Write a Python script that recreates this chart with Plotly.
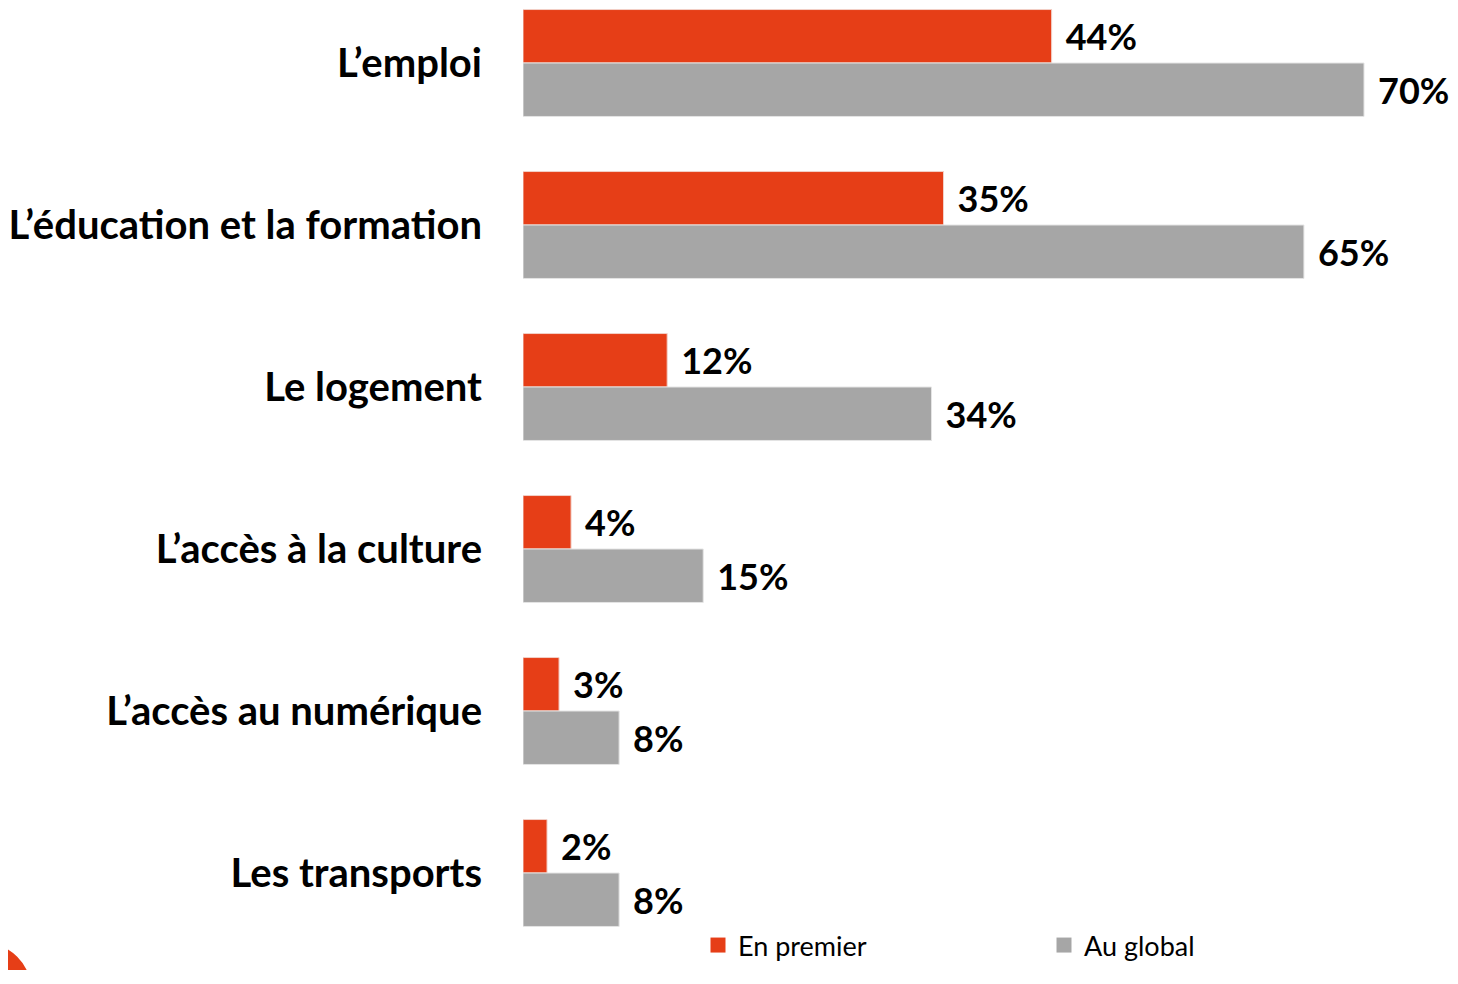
import plotly.graph_objects as go

categories = ["L’emploi", "L’éducation et la formation", "Le logement",
              "L’accès à la culture", "L’accès au numérique", "Les transports"]
en_premier = [44, 35, 12, 4, 3, 2]
au_global = [70, 65, 34, 15, 8, 8]

RED = "#E63E17"
GREY = "#A6A6A6"
FONT = "Lato"

# the html page has an 8px body margin: keep the figure inside the window
W, H = 1442, 962
L, PH = 515, 946
B = H - PH
PW = W - L

fig = go.Figure()
for name, vals, col, edge in [("En premier", en_premier, RED, "#f2d0c8"),
                              ("Au global", au_global, GREY, "#e4e4e4")]:
    fig.add_trace(go.Bar(
        y=categories, x=vals, orientation="h", name=name, showlegend=False,
        marker=dict(color=col, line=dict(color=edge, width=1)),
        text=[f"\u00a0\u200a{v}%" for v in vals], textposition="outside",
        textfont=dict(family=FONT, size=36, color="black", weight="bold"),
        cliponaxis=False,
    ))
    # legend entry with a bigger square
    fig.add_trace(go.Scatter(
        x=[None], y=[None], mode="markers", name=name,
        marker=dict(symbol="square", size=15, color=col),
    ))

fig.update_layout(
    width=W, height=H,
    margin=dict(l=L, r=0, t=0, b=B, autoexpand=False),
    barmode="group", bargap=0.34, bargroupgap=0,
    plot_bgcolor="white", paper_bgcolor="white",
    font=dict(family=FONT, color="black"),
    legend=dict(orientation="h", xref="container", yref="container",
                x=690 / W, y=0.0, xanchor="left", yanchor="bottom",
                entrywidth=301, entrywidthmode="pixels",
                font=dict(family=FONT, size=27, color="black"),
                traceorder="normal", itemsizing="trace"),
    uniformtext=dict(minsize=36, mode="show"),
)
fig.update_xaxes(range=[0, PW / (841 / 70)], visible=False)
fig.update_yaxes(range=[5.5, -55 / 162], showgrid=False, showline=False,
                 automargin=False,
                 ticks="outside", ticklen=32, tickcolor="white",
                 tickfont=dict(family=FONT, size=40, color="black", weight="bold"))

# orange ring logo cut by the bottom-left corner
cx, cy, r = -24, 982, 38.5
fig.add_shape(type="circle", xref="paper", yref="paper",
              x0=(cx - r - L) / PW, x1=(cx + r - L) / PW,
              y0=(PH - (cy + r)) / PH, y1=(PH - (cy - r)) / PH,
              line=dict(color=RED, width=17), fillcolor="rgba(0,0,0,0)",
              layer="above")

fig.write_html("out.html")
